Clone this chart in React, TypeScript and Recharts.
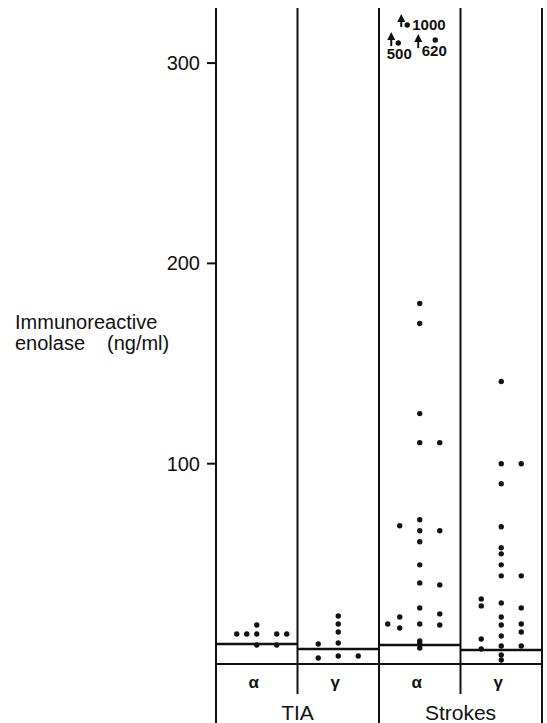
import { ScatterChart, Scatter, XAxis, YAxis, ReferenceLine } from "recharts";

// column labels under the plot, and the two patient groups
const columns = ["α", "γ", "α", "γ"];
const groupNames = ["TIA", "Strokes"];
const yTicks = [100, 200, 300];

// upper normal limit drawn as a bar across each column
const upperLimits = [10, 7.5, 9.5, 7];

// each dot: lane (horizontal offset inside the column) + value in ng/ml
const tiaAlphaLanes = [-2, -1, 0, 0, 0, 2, 2, 3];
const tiaAlphaValues = [15, 15, 19.5, 15, 9.5, 15, 9.5, 15];

const tiaGammaLanes = [-2, -2, 0, 0, 0, 0, 0, 2];
const tiaGammaValues = [10, 3, 24, 20, 16, 10.5, 4, 4];

const strokesAlphaLanes = [
  0, 0, 0, 0, 0, 0, 0, 0, 0, 0, 0, 0, 0, 0,
  2, 2, 2, 2, 2,
  -2, -2, -2,
  -3.2,
];
const strokesAlphaValues = [
  180, 170, 125, 110.5, 72, 66.5, 61, 49.5, 40.5, 28, 20, 11.5, 10, 8,
  110.5, 66.5, 39.5, 25, 19.5,
  69, 23.5, 18,
  20,
];

const strokesGammaLanes = [
  0, 0, 0, 0, 0, 0, 0, 0, 0, 0, 0, 0, 0, 0, 0,
  2, 2, 2, 2, 2, 2,
  -2, -2, -2, -2,
];
const strokesGammaValues = [
  141, 100, 90, 68.5, 58, 55, 49.5, 44, 30.5, 23.5, 19.5, 14, 9, 4.5, 2,
  100, 44, 28, 20, 16, 9,
  32.5, 29, 12.5, 7.5,
];

// off-scale stroke α values, drawn at the top of the axis with an arrow
const offScaleValues = [1000, 500, 620];
const offScaleLanes = [-1.25, -2.15, 1.55];
const offScalePlotted = [319, 310, 311.5];

const W = 547;
const H = 723;
const LEFT = 216;
const RIGHT = 5;
const TOP = 8;
const BOTTOM = 59;
const COL_PX = (W - LEFT - RIGHT) / columns.length;
const LANE = 10 / COL_PX;
const INK = "#111";
const FONT = "'Liberation Sans', Arial, sans-serif";

const toPoints = (col: number, lanes: number[], values: number[]) =>
  values.map((v, i) => ({ x: col + 0.5 + lanes[i] * LANE, y: v }));

const dots = [
  ...toPoints(0, tiaAlphaLanes, tiaAlphaValues),
  ...toPoints(1, tiaGammaLanes, tiaGammaValues),
  ...toPoints(2, strokesAlphaLanes, strokesAlphaValues),
  ...toPoints(3, strokesGammaLanes, strokesGammaValues),
];

const offScale = offScaleValues.map((v, i) => ({
  x: 2.5 + offScaleLanes[i] * LANE,
  y: offScalePlotted[i],
  label: String(v),
}));

const offScaleLayout: Record<string, any> = {
  "1000": { arrowDx: -6, top: -11, bottom: 2, textDx: 5, textDy: 5, anchor: "start" },
  "500": { arrowDx: -7, top: -11, bottom: 3, textDx: 1, textDy: 16, anchor: "middle" },
  "620": { arrowDx: -17, top: -6, bottom: 8, textDx: -1, textDy: 16, anchor: "middle" },
};

const Dot = (props: any) => <circle cx={props.cx} cy={props.cy} r={2.7} fill={INK} />;

const OffScaleMark = (props: any) => {
  const { cx, cy, payload } = props;
  const l = offScaleLayout[payload.label];
  const ax = cx + l.arrowDx;
  const top = cy + l.top;
  return (
    <g>
      <circle cx={cx} cy={cy} r={2.7} fill={INK} />
      <polygon points={`${ax},${top} ${ax - 4},${top + 8} ${ax + 4},${top + 8}`} fill={INK} />
      <line x1={ax} y1={top + 6} x2={ax} y2={cy + l.bottom} stroke={INK} strokeWidth={2} />
      <text
        x={cx + l.textDx}
        y={cy + l.textDy}
        textAnchor={l.anchor}
        fontFamily={FONT}
        fontWeight="bold"
        fontSize={15}
        fill={INK}
      >
        {payload.label}
      </text>
    </g>
  );
};

const ColumnTick = (props: any) => {
  const { x, y, index } = props;
  const half = COL_PX / 2;
  const inner = index % 2 === 0;
  return (
    <g>
      {index === 0 && (
        <line x1={x - half} y1={y} x2={x - half} y2={H} stroke={INK} strokeWidth={2} />
      )}
      <line
        x1={x + half}
        y1={y}
        x2={x + half}
        y2={inner ? y + 30 : H}
        stroke={INK}
        strokeWidth={2}
      />
      <text
        x={x - 3}
        y={y + 24}
        textAnchor="middle"
        fontFamily={FONT}
        fontWeight="bold"
        fontSize={17}
        fill={INK}
      >
        {columns[index]}
      </text>
      {!inner && (
        <text
          x={x - half}
          y={y + 56}
          textAnchor="middle"
          fontFamily={FONT}
          fontSize={21}
          fill={INK}
        >
          {groupNames[(index - 1) / 2]}
        </text>
      )}
    </g>
  );
};

const AxisTitle = () => (
  <text fontFamily={FONT} fontSize={20} fill={INK}>
    <tspan x={15} y={329}>Immunoreactive</tspan>
    <tspan x={15} y={350}>enolase</tspan>
    <tspan x={107} y={350}>(ng/ml)</tspan>
  </text>
);

export default function App() {
  return (
    <div style={{ width: W, height: H, background: "#fff" }}>
      <style>{"body{margin:0}"}</style>
      <ScatterChart width={W} height={H} margin={{ top: TOP, right: RIGHT, bottom: 0, left: 0 }}>
        <XAxis
          type="number"
          dataKey="x"
          domain={[0, columns.length]}
          ticks={columns.map((_, i) => i + 0.5)}
          interval={0}
          height={BOTTOM}
          tickSize={0}
          tickMargin={0}
          tickLine={false}
          axisLine={{ stroke: INK, strokeWidth: 2 }}
          tick={<ColumnTick />}
        />
        <YAxis
          type="number"
          dataKey="y"
          domain={[0, 327.5]}
          ticks={yTicks}
          allowDataOverflow
          width={LEFT}
          tickSize={9}
          tickMargin={7}
          axisLine={{ stroke: INK, strokeWidth: 2 }}
          tickLine={{ stroke: INK, strokeWidth: 2 }}
          tick={{ fill: INK, fontSize: 20, fontFamily: FONT }}
          label={{ content: <AxisTitle /> }}
        />
        {[1, 2, 3, 4].map((c) => (
          <ReferenceLine key={`v${c}`} x={c} stroke={INK} strokeWidth={2} />
        ))}
        {upperLimits.map((v, i) => (
          <ReferenceLine
            key={`h${i}`}
            segment={[
              { x: i, y: v },
              { x: i + 1, y: v },
            ]}
            stroke={INK}
            strokeWidth={2.5}
          />
        ))}
        <Scatter data={dots} shape={<Dot />} isAnimationActive={false} />
        <Scatter data={offScale} shape={<OffScaleMark />} isAnimationActive={false} />
      </ScatterChart>
    </div>
  );
}
